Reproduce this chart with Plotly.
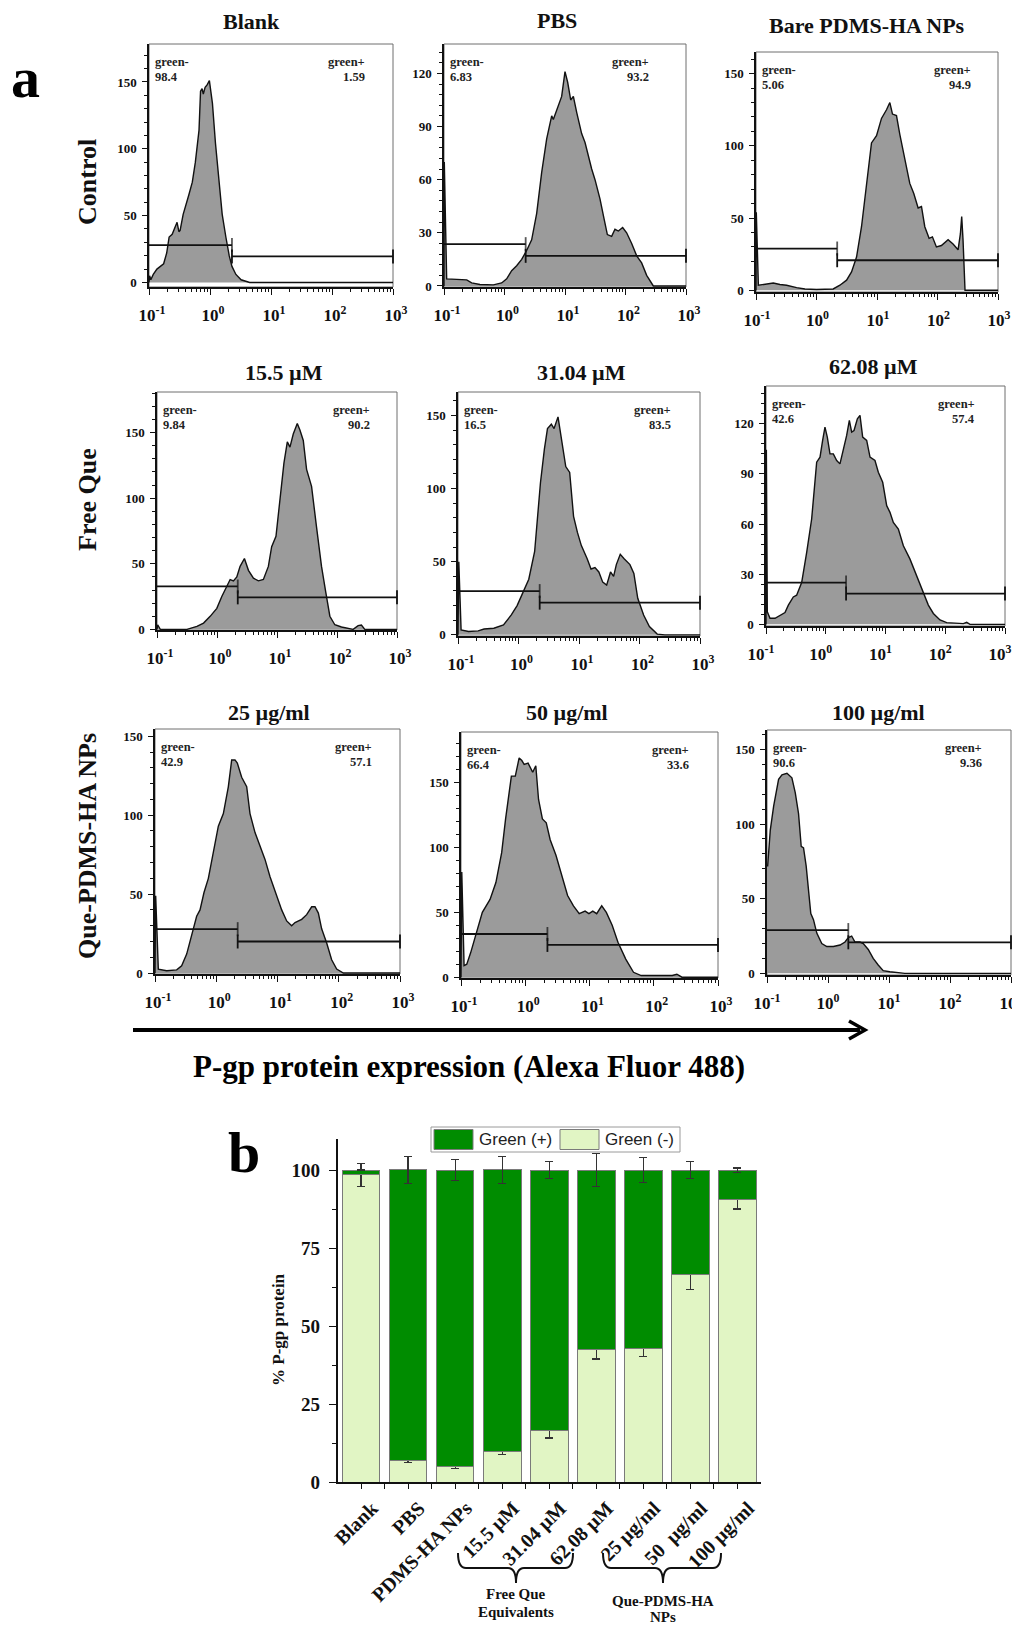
import numpy as np
import plotly.graph_objects as go

W, H = 1012, 1627
SERIF = "Liberation Serif, Times New Roman, serif"
SANS = "Liberation Sans, Arial, sans-serif"

# ---------------- data ----------------
PANEL_TITLES = ["Blank", "PBS", "Bare PDMS-HA NPs",
                "15.5 µM", "31.04 µM", "62.08 µM",
                "25 µg/ml", "50 µg/ml", "100 µg/ml"]
ROW_LABELS = ["Control", "Free Que", "Que-PDMS-HA NPs"]

# gated population percentages per sample
NEG_PCT = [98.4, 6.83, 5.06, 9.84, 16.5, 42.6, 42.9, 66.4, 90.6]
POS_PCT = [1.59, 93.2, 94.9, 90.2, 83.5, 57.4, 57.1, 33.6, 9.36]
NEG_ERR = [3.8, 0.7, 0.8, 0.9, 2.4, 3.2, 2.8, 4.8, 3.1]
POS_ERR = [float("nan"), 4.3, 3.3, 4.4, 2.6, 5.2, 3.9, 2.6, 0.7]

BAR_LABELS = ["Blank", "PBS", "PDMS-HA NPs", "15.5 µM", "31.04 µM",
              "62.08 µM", "25 µg/ml", "50\u00a0 µg/ml", "100 µg/ml"]

# flow-cytometry histograms: log10(Alexa Fluor 488 intensity) vs. event count
BLANK_LOG = [-1.0, -0.99, -0.97, -0.93, -0.87, -0.82, -0.76, -0.71, -0.67, -0.62, -0.57, -0.54, -0.51,
             -0.49, -0.44, -0.40, -0.35, -0.29, -0.24, -0.18, -0.155, -0.13, -0.11, -0.08, -0.045, -0.01,
             0.04, 0.09, 0.15, 0.20, 0.26, 0.315, 0.36, 0.425, 0.51, 0.65, 3.0]
BLANK_CNT = [0, 5, 2, 6, 10, 12, 14, 22, 34, 36, 41, 45, 38, 39, 51, 58, 65, 75, 90, 114,
             143, 145, 141, 146, 148, 151, 134, 104, 75, 51, 34, 20, 12, 6, 2, 0, 0]

PBS_LOG = [-1.0, -0.995, -0.956, -0.625, -0.543, -0.405, -0.185, -0.047, 0.036, 0.118, 0.201, 0.284,
           0.366, 0.449, 0.532, 0.614, 0.697, 0.780, 0.807, 0.862, 0.945, 1.0, 1.044, 1.094, 1.138,
           1.193, 1.275, 1.331, 1.386, 1.441, 1.496, 1.579, 1.645, 1.700, 1.771, 1.826, 1.882, 1.953,
           2.019, 2.102, 2.185, 2.267, 2.350, 2.460, 3.0]
PBS_CNT = [0, 70, 4, 3.4, 1.7, 0.8, 0.6, 1.7, 4, 8.6, 11.4, 15, 20, 26, 41, 64, 83, 96, 94, 99, 107,
           121, 115, 105, 107, 98, 86, 81, 73, 66, 60, 49, 38, 29, 28, 32, 31, 33, 30, 24, 17, 13, 6, 0, 0]

BARE_LOG = [-1.0, -0.995, -0.961, -0.879, -0.714, -0.604, -0.494, -0.329, -0.191, 0.001, 0.276, 0.387,
            0.497, 0.579, 0.662, 0.744, 0.827, 0.909, 0.992, 1.074, 1.157, 1.212, 1.256, 1.322, 1.377,
            1.459, 1.542, 1.608, 1.680, 1.735, 1.790, 1.861, 1.916, 1.982, 2.065, 2.175, 2.257, 2.340,
            2.378, 2.400, 2.422, 2.455, 3.0]
BARE_CNT = [0, 54, 3.5, 4, 5, 4, 3.5, 1.8, 0.9, 0.5, 0.9, 3.5, 7, 12.7, 23, 44, 74, 102, 107, 119, 125,
            130, 122, 121, 108, 92, 74, 67, 57, 58, 44, 36, 37, 30, 31, 35, 32, 28, 39, 51, 35, 0, 0]

Q155_LOG = [-1.0, -0.989, -0.945, -0.501, -0.335, -0.224, -0.114, -0.003, 0.080, 0.163, 0.219, 0.274,
            0.330, 0.385, 0.457, 0.524, 0.607, 0.690, 0.773, 0.856, 0.911, 0.983, 1.050, 1.116, 1.172,
            1.216, 1.271, 1.338, 1.382, 1.438, 1.493, 1.576, 1.659, 1.742, 1.814, 1.881, 1.964, 2.075,
            2.269, 2.352, 2.407, 2.463, 3.0]
Q155_CNT = [0, 3.5, 0, 0, 2.3, 4.8, 9.9, 16, 25, 33, 38, 37, 40, 48, 54, 45, 39, 37, 38, 48, 63, 71,
            99, 127, 143, 139, 149, 157, 152, 144, 122, 109, 78, 48, 28, 10, 3.5, 1.8, 0, 2.8, 3.3, 0, 0]

Q3104_LOG = [-1.0, -0.987, -0.949, -0.826, -0.666, -0.569, -0.408, -0.248, -0.119, -0.023, 0.074, 0.170,
             0.267, 0.299, 0.363, 0.428, 0.479, 0.543, 0.588, 0.653, 0.717, 0.781, 0.846, 0.910, 0.974,
             1.039, 1.135, 1.199, 1.264, 1.328, 1.392, 1.457, 1.521, 1.572, 1.617, 1.682, 1.746, 1.842,
             1.907, 1.971, 2.068, 2.164, 2.293, 2.42, 3.0]
Q3104_CNT = [0, 50, 3.4, 2.3, 2.7, 4, 4.5, 6.8, 13.6, 20, 29, 38, 57, 72, 104, 127, 141, 144, 141, 149,
             131, 115, 111, 81, 70, 61, 52, 45, 46, 43, 36, 34, 43, 40, 48, 55, 52, 48, 42, 25, 13.6,
             5.7, 0.5, 0, 0]

Q6208_LOG = [-1.0, -0.994, -0.978, -0.933, -0.849, -0.766, -0.682, -0.626, -0.543, -0.487, -0.403,
             -0.319, -0.236, -0.152, -0.096, -0.052, -0.013, 0.026, 0.071, 0.127, 0.183, 0.238, 0.294,
             0.350, 0.395, 0.434, 0.473, 0.529, 0.573, 0.618, 0.685, 0.741, 0.824, 0.880, 0.953, 1.020,
             1.075, 1.131, 1.215, 1.299, 1.410, 1.522, 1.633, 1.717, 1.801, 1.912, 2.024, 2.191, 2.303,
             2.359, 2.414, 3.0]
Q6208_CNT = [0, 104.5, 7.5, 3.6, 3.6, 5.5, 7, 11.5, 16.4, 17.4, 25, 43, 63, 97, 100, 110, 118, 112, 102,
             102, 98, 96, 104.5, 113, 122, 115, 116, 123, 125, 112, 110, 100, 98, 91, 85, 71, 67, 61, 57,
             47, 39, 29, 19, 11.5, 6.5, 2.6, 1, 0.6, 0.4, 1.2, 0, 0]

NP25_LOG = [-1.0, -0.989, -0.946, -0.810, -0.646, -0.565, -0.483, -0.401, -0.320, -0.265, -0.200, -0.129,
            -0.048, 0.034, 0.116, 0.197, 0.252, 0.306, 0.344, 0.415, 0.497, 0.551, 0.633, 0.714, 0.796,
            0.878, 0.986, 1.068, 1.150, 1.231, 1.286, 1.395, 1.476, 1.558, 1.612, 1.667, 1.721, 1.803,
            1.884, 1.966, 2.075, 3.0]
NP25_CNT = [0, 49, 2.5, 1.5, 2, 4.6, 12, 24, 36, 40, 51, 60, 76, 93, 101, 118, 135, 135, 133, 124, 118,
            101, 89, 80, 72, 61, 49, 40, 33, 30, 32, 34, 37, 42, 42, 38, 28, 19, 8.4, 2.5, 0, 0]

NP50_LOG = [-1.0, -0.988, -0.952, -0.910, -0.849, -0.759, -0.668, -0.548, -0.457, -0.367, -0.306, -0.216,
            -0.155, -0.095, -0.053, -0.017, 0.044, 0.116, 0.164, 0.207, 0.267, 0.327, 0.388, 0.478, 0.569,
            0.659, 0.750, 0.840, 0.931, 0.991, 1.051, 1.112, 1.190, 1.262, 1.353, 1.443, 1.564, 1.685,
            1.805, 2.288, 2.360, 2.439, 3.0]
NP50_CNT = [0, 81, 9, 10, 19, 35, 50, 60, 73, 96, 122, 155, 155, 169, 167, 164, 165, 158, 163, 137, 122,
            119, 106, 94, 78, 63, 55, 49, 51, 49, 51, 49, 55, 50, 40, 27, 14, 3.8, 1.3, 1.3, 2.3, 0, 0]

NP100_LOG = [-1.0, -0.989, -0.946, -0.891, -0.810, -0.755, -0.673, -0.592, -0.537, -0.483, -0.439,
             -0.401, -0.358, -0.320, -0.282, -0.238, -0.184, -0.102, -0.020, 0.088, 0.197, 0.279, 0.333,
             0.388, 0.442, 0.524, 0.578, 0.660, 0.741, 0.823, 0.905, 1.014, 1.122, 1.259, 3.0]
NP100_CNT = [72, 72, 96, 112, 130, 133, 134, 131, 121, 107, 85, 84, 72, 54, 40, 36, 27, 20, 18, 18, 19,
             21, 24, 25, 21, 21, 20, 16, 10, 5.6, 1.8, 1.1, 0.4, 0, 0]

HIST_LOG = [BLANK_LOG, PBS_LOG, BARE_LOG, Q155_LOG, Q3104_LOG, Q6208_LOG, NP25_LOG, NP50_LOG, NP100_LOG]
HIST_CNT = [BLANK_CNT, PBS_CNT, BARE_CNT, Q155_CNT, Q3104_CNT, Q6208_CNT, NP25_CNT, NP50_CNT, NP100_CNT]

# gate boundary (log10 intensity) and gate bar heights (counts)
GATE_SPLIT = [0.36, 0.35, 0.342, 0.346, 0.35, 0.34, 0.35, 0.345, 0.333]
GATE_NEG_Y = [28, 23.6, 28.9, 32.7, 29.9, 25, 27.8, 33.3, 29]
GATE_POS_Y = [19.5, 17, 20.8, 24.4, 22, 18.4, 20, 24.9, 20.8]

X_TICKS = [0.1, 1, 10, 100, 1000]
X_TICKTEXT = ["10<sup>-1</sup>", "10<sup>0</sup>", "10<sup>1</sup>", "10<sup>2</sup>", "10<sup>3</sup>"]

# ---------------- layout geometry (pixels) ----------------
PANEL_BOX = [(149, 393, 44, 287), (444, 686, 44, 287), (756, 998, 52, 292),
             (157, 397, 392, 630), (458, 700, 392, 636), (766, 1005, 386, 626),
             (155, 400, 729, 974), (461, 718, 732, 978), (767, 1011, 730, 975)]
Y_RANGES = [[-3.4, 178.4], [-0.6, 136.6], [-1.2, 165], [-0.5, 181], [-0.8, 166],
            [-1.0, 142.6], [-0.6, 154.6], [-0.6, 189], [-1.1, 163]]
Y_DTICK = [50, 30, 50, 50, 50, 30, 50, 50, 50]
Y_MINOR = [10, 6, 10, 10, 10, 6, 10, 10, 10]
RIGHT_INSET = [-26, -35, -25, -25, -27, -28, -26, -27, -27]
X_LABEL_SHIFT = [3, 3, 1, 3, 3, -5, 3, 3, 0]
TITLE_POS = [(251, 21), (557, 20), (867, 25), (284, 372), (581, 372), (873, 367),
             (269, 712), (567, 712), (878, 712)]
ROW_POS = [(87, 182), (87, 500), (87, 846)]


def fx(p):
    return p / W


def fy(p):
    return 1 - p / H


fig = go.Figure()
axes = {}
annotations = []
shapes = []

minor_x = [k * 10.0 ** d for d in range(-1, 3) for k in range(2, 10)]
ink = "#111111"

for i in range(9):
    n = i + 1
    xa = "x" if n == 1 else f"x{n}"
    ya = "y" if n == 1 else f"y{n}"
    L, R, T, B = PANEL_BOX[i]

    fig.add_trace(go.Scatter(
        x=np.power(10.0, HIST_LOG[i]), y=HIST_CNT[i], mode="lines",
        line=dict(color=ink, width=1.4), fill="tozeroy", fillcolor="#9b9b9b",
        xaxis=xa, yaxis=ya, showlegend=False, hoverinfo="skip"))

    split = 10 ** GATE_SPLIT[i]
    fig.add_trace(go.Scatter(
        x=[0.1, split], y=[GATE_NEG_Y[i]] * 2, mode="lines+markers",
        line=dict(color=ink, width=1.8),
        marker=dict(symbol="line-ns-open", size=[0, 10], color=ink, line=dict(color=ink, width=1.8)),
        cliponaxis=False, xaxis=xa, yaxis=ya, showlegend=False, hoverinfo="skip"))
    fig.add_trace(go.Scatter(
        x=[split, 1000], y=[GATE_POS_Y[i]] * 2, mode="lines+markers",
        line=dict(color=ink, width=1.8),
        marker=dict(symbol="line-ns-open", size=10, color=ink, line=dict(color=ink, width=1.8)),
        cliponaxis=False, xaxis=xa, yaxis=ya, showlegend=False, hoverinfo="skip"))

    axes["xaxis" if n == 1 else f"xaxis{n}"] = dict(
        type="log", range=[-1, 3], domain=[fx(L), fx(R)], anchor=ya,
        tickmode="array", tickvals=X_TICKS, ticktext=X_TICKTEXT,
        ticks="outside", ticklen=6, tickwidth=1.3, tickcolor=ink,
        minor=dict(tickmode="array", tickvals=minor_x, ticks="outside", ticklen=3,
                   tickwidth=1, tickcolor=ink, showgrid=False),
        showline=True, linecolor=ink, linewidth=1.5, showgrid=False, zeroline=False,
        tickfont=dict(family=SERIF, size=17, color=ink, weight="bold"),
        ticklabelstandoff=6, ticklabelshift=X_LABEL_SHIFT[i], ticklabeloverflow="allow",
        automargin=False, fixedrange=True)
    axes["yaxis" if n == 1 else f"yaxis{n}"] = dict(
        range=Y_RANGES[i], domain=[fy(B), fy(T)], anchor=xa,
        tick0=0, dtick=Y_DTICK[i], ticks="outside", ticklen=5, tickwidth=1.3, tickcolor=ink,
        minor=dict(dtick=Y_MINOR[i], tick0=0, ticks="outside", ticklen=3, tickwidth=1,
                   tickcolor=ink, showgrid=False),
        showline=True, linecolor=ink, linewidth=1.5, showgrid=False, zeroline=False,
        tickfont=dict(family=SERIF, size=13, color=ink, weight="bold"),
        ticklabelstandoff=3, automargin=False, fixedrange=True)

    shapes.append(dict(type="rect", xref=f"{xa} domain", yref=f"{ya} domain",
                       x0=0, x1=1, y0=0, y1=1, layer="below",
                       line=dict(color="#6f6f6f", width=1)))

    gate_font = dict(family=SERIF, size=12.5, color="#222", weight="bold")
    for txt, yshift in (("green-", -18), (f"{NEG_PCT[i]:g}", -33)):
        annotations.append(dict(text=txt, xref=f"{xa} domain", yref=f"{ya} domain",
                                x=0, y=1, xshift=4, yshift=yshift, xanchor="left",
                                yanchor="middle", showarrow=False, font=gate_font))
    for txt, yshift in (("green+", -18), (f"{POS_PCT[i]:g}", -33)):
        annotations.append(dict(text=txt, xref=f"{xa} domain", yref=f"{ya} domain",
                                x=1, y=1, xshift=RIGHT_INSET[i], yshift=yshift, xanchor="right",
                                yanchor="middle", showarrow=False, font=gate_font))

    cx, cy = TITLE_POS[i]
    annotations.append(dict(text=PANEL_TITLES[i], xref="paper", yref="paper",
                            x=fx(cx), y=fy(cy), xanchor="center", yanchor="middle",
                            showarrow=False, font=dict(family=SERIF, size=22, color=ink, weight="bold")))

for label, (cx, cy) in zip(ROW_LABELS, ROW_POS):
    annotations.append(dict(text=label, xref="paper", yref="paper", x=fx(cx), y=fy(cy),
                            xanchor="center", yanchor="middle", textangle=-90, showarrow=False,
                            font=dict(family=SERIF, size=26, color=ink, weight="bold")))

# panel letters
annotations.append(dict(text="a", xref="paper", yref="paper", x=fx(25), y=fy(78),
                        xanchor="center", yanchor="middle", showarrow=False,
                        font=dict(family=SERIF, size=58, color="#000", weight="bold")))
annotations.append(dict(text="b", xref="paper", yref="paper", x=fx(244), y=fy(1152),
                        xanchor="center", yanchor="middle", showarrow=False,
                        font=dict(family=SERIF, size=58, color="#000", weight="bold")))

# shared intensity axis arrow and caption
shapes.append(dict(type="line", xref="paper", yref="paper", x0=fx(133), x1=fx(860),
                   y0=fy(1030), y1=fy(1030), line=dict(color="#000", width=4)))
shapes.append(dict(type="path", xref="paper", yref="paper",
                   path=f"M {fx(849)},{fy(1021)} L {fx(865)},{fy(1030)} L {fx(849)},{fy(1039)}",
                   line=dict(color="#000", width=3.5)))
annotations.append(dict(text="P-gp protein expression (Alexa Fluor 488)", xref="paper", yref="paper",
                        x=fx(469), y=fy(1066), xanchor="center", yanchor="middle", showarrow=False,
                        font=dict(family=SERIF, size=31, color="#000", weight="bold")))

# ---------------- panel b: stacked bars ----------------
GREEN_POS = "#008c00"
GREEN_NEG = "#e1f5c4"
bar_x = list(range(len(BAR_LABELS)))
fig.add_trace(go.Bar(x=bar_x, y=NEG_PCT, width=0.8, name="Green (-)",
                     marker=dict(color=GREEN_NEG, line=dict(color="#7a7a7a", width=1)),
                     error_y=dict(type="data", array=NEG_ERR, color="#333", thickness=1.2, width=4),
                     xaxis="x10", yaxis="y10", showlegend=False, hoverinfo="skip"))
fig.add_trace(go.Bar(x=bar_x, y=POS_PCT, width=0.8, name="Green (+)",
                     marker=dict(color=GREEN_POS, line=dict(color="#7a7a7a", width=1)),
                     error_y=dict(type="data", array=POS_ERR, color="#333", thickness=1.2, width=4),
                     xaxis="x10", yaxis="y10", showlegend=False, hoverinfo="skip"))

axes["xaxis10"] = dict(
    domain=[fx(337.5), fx(761)], anchor="y10", range=[-0.5, 8.5],
    tickmode="array", tickvals=bar_x, ticktext=BAR_LABELS, tickangle=-45,
    ticks="outside", ticklen=5, tickwidth=1.3, tickcolor=ink,
    minor=dict(tickmode="array", tickvals=[v + 0.5 for v in bar_x[:-1]], ticks="outside",
               ticklen=5, tickwidth=1.3, tickcolor=ink, showgrid=False),
    showline=True, linecolor=ink, linewidth=1.5, showgrid=False, zeroline=False,
    tickfont=dict(family=SERIF, size=20, color=ink, weight="bold"),
    ticklabelshift=11, ticklabelstandoff=0,
    automargin=False, fixedrange=True)
axes["yaxis10"] = dict(
    domain=[fy(1482), fy(1138.8)], anchor="x10", range=[0, 110],
    tickmode="array", tickvals=[0, 25, 50, 75, 100],
    ticks="outside", ticklen=7, tickwidth=1.3, tickcolor=ink,
    minor=dict(dtick=12.5, tick0=0, ticks="outside", ticklen=4, tickwidth=1.1,
               tickcolor=ink, showgrid=False),
    showline=True, linecolor=ink, linewidth=1.5, showgrid=False, zeroline=False,
    tickfont=dict(family=SERIF, size=19, color=ink, weight="bold"),
    ticklabelstandoff=5, automargin=False, fixedrange=True)

annotations.append(dict(text="% P-gp protein", xref="paper", yref="paper", x=fx(278), y=fy(1330),
                        xanchor="center", yanchor="middle", textangle=-90, showarrow=False,
                        font=dict(family=SERIF, size=17, color=ink, weight="bold")))

# legend box
shapes.append(dict(type="rect", xref="paper", yref="paper", x0=fx(431), x1=fx(680),
                   y0=fy(1152), y1=fy(1127), line=dict(color="#9a9a9a", width=1), fillcolor="white"))
for (sx0, sx1, color, label, tx) in ((434, 473, GREEN_POS, "Green (+)", 477),
                                     (560, 599, GREEN_NEG, "Green (-)", 603)):
    shapes.append(dict(type="rect", xref="paper", yref="paper", x0=fx(sx0), x1=fx(sx1),
                       y0=fy(1149.5), y1=fy(1129.5), fillcolor=color,
                       line=dict(color="#7a7a7a", width=1)))
    annotations.append(dict(text=label, xref="paper", yref="paper", x=fx(tx), y=fy(1139.5),
                            xanchor="left", yanchor="middle", showarrow=False,
                            font=dict(family=SANS, size=17, color="#222")))

# group brackets under the category labels
for (bl, br, bc, lines) in ((458, 573, 516, [("Free Que", 1594), ("Equivalents", 1612)]),
                            (603, 721, 663, [("Que-PDMS-HA", 1601), ("NPs", 1617)])):
    top, mid, tip, r = 1553, 1568, 1583, 8
    path = (f"M {fx(bl)},{fy(top)} Q {fx(bl)},{fy(mid)} {fx(bl + r)},{fy(mid)} "
            f"L {fx(bc - r)},{fy(mid)} Q {fx(bc)},{fy(mid)} {fx(bc)},{fy(tip)} "
            f"Q {fx(bc)},{fy(mid)} {fx(bc + r)},{fy(mid)} "
            f"L {fx(br - r)},{fy(mid)} Q {fx(br)},{fy(mid)} {fx(br)},{fy(top)}")
    shapes.append(dict(type="path", xref="paper", yref="paper", path=path,
                       line=dict(color="#111", width=2)))
    for txt, ty in lines:
        annotations.append(dict(text=txt, xref="paper", yref="paper", x=fx(bc), y=fy(ty),
                                xanchor="center", yanchor="middle", showarrow=False,
                                font=dict(family=SERIF, size=15, color=ink, weight="bold")))

fig.update_layout(
    template="none",
    width=W, height=H, margin=dict(l=0, r=0, t=0, b=0),
    paper_bgcolor="white", plot_bgcolor="white",
    barmode="stack", bargap=0.2, showlegend=False,
    annotations=annotations, shapes=shapes, **axes)

fig.write_html("out.html")
